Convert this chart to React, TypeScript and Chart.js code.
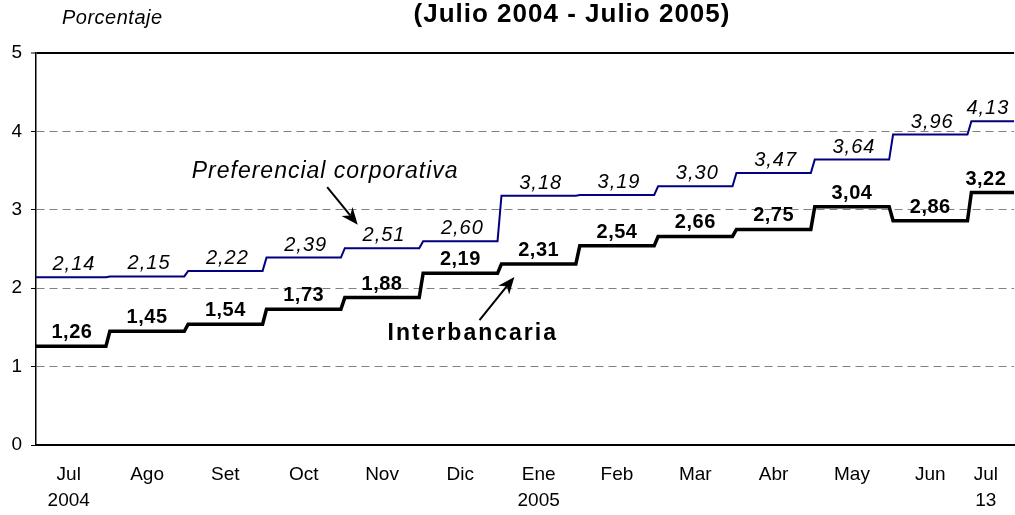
import React, { useEffect, useRef } from "react";
import { Chart, registerables } from "chart.js";

Chart.register(...registerables);

// ---- data ----
const months = ["Jul", "Ago", "Set", "Oct", "Nov", "Dic", "Ene", "Feb", "Mar", "Abr", "May", "Jun", "Jul"];
const subLabels = ["2004", "", "", "", "", "", "2005", "", "", "", "", "", "13"];
const preferencial = [2.14, 2.15, 2.22, 2.39, 2.51, 2.6, 3.18, 3.19, 3.3, 3.47, 3.64, 3.96, 4.13];
const interbancaria = [1.26, 1.45, 1.54, 1.73, 1.88, 2.19, 2.31, 2.54, 2.66, 2.75, 3.04, 2.86, 3.22];
const yTickValues = [0, 1, 2, 3, 4, 5];
const lastMonthDays = 13;
const lastMonthLength = 31;
const titleText = "(Julio 2004 - Julio 2005)";
const unitText = "Porcentaje";
const prefName = "Preferencial corporativa";
const interName = "Interbancaria";

// ---- layout / style ----
const FONT = '"Liberation Sans", Arial, Helvetica, sans-serif';
const X_MIN = -0.418;
const X_MAX = 12.07;
const SLANT = 0.05;
const n = months.length;

const fmt = (v: number) => v.toFixed(2).replace(".", ",");

function monthCenter(i: number) {
  if (i === 0) return (X_MIN + 0.5) / 2;
  if (i === n - 1) return n - 1.5 + lastMonthDays / lastMonthLength / 2;
  return i;
}
function axisLabelPos(i: number) {
  if (i === n - 1) return n - 1.5 + lastMonthDays / lastMonthLength / 2;
  return i;
}

function stepPoints(vals: number[]) {
  const pts: { x: number; y: number }[] = [];
  vals.forEach((v, i) => {
    const start = i === 0 ? X_MIN : i - 0.5 + SLANT / 2;
    const end = i === vals.length - 1 ? X_MAX : i + 0.5 - SLANT / 2;
    pts.push({ x: start, y: v }, { x: end, y: v });
  });
  return pts;
}

// annotation anchors in data units (month index, percent)
const prefNamePos = { x: 1.57, y: 3.405 };
const interNamePos = { x: 4.07, y: 1.34 };
const prefArrow = { from: { x: 3.3, y: 3.29 }, to: { x: 3.69, y: 2.81 } };
const interArrow = { from: { x: 5.245, y: 1.594 }, to: { x: 5.69, y: 2.143 } };

function drawArrow(ctx: CanvasRenderingContext2D, x1: number, y1: number, x2: number, y2: number) {
  const head = 17;
  const w = 7;
  const a = Math.atan2(y2 - y1, x2 - x1);
  ctx.beginPath();
  ctx.moveTo(x1, y1);
  ctx.lineTo(x2 - Math.cos(a) * head * 0.7, y2 - Math.sin(a) * head * 0.7);
  ctx.stroke();
  ctx.beginPath();
  ctx.moveTo(x2, y2);
  ctx.lineTo(x2 - head * Math.cos(a) + w * Math.sin(a), y2 - head * Math.sin(a) - w * Math.cos(a));
  ctx.lineTo(x2 - head * 0.7 * Math.cos(a), y2 - head * 0.7 * Math.sin(a));
  ctx.lineTo(x2 - head * Math.cos(a) - w * Math.sin(a), y2 - head * Math.sin(a) + w * Math.cos(a));
  ctx.closePath();
  ctx.fill();
}

const annotPlugin = {
  id: "annotPlugin",
  afterDatasetsDraw(chart: any) {
    const { ctx } = chart;
    const xs = chart.scales.x;
    const ys = chart.scales.y;
    const c = ctx as any;
    ctx.save();
    ctx.fillStyle = "#000";
    ctx.strokeStyle = "#000";
    ctx.textAlign = "center";
    ctx.textBaseline = "alphabetic";

    c.letterSpacing = "1px";
    ctx.font = `italic 20px ${FONT}`;
    preferencial.forEach((v, i) => {
      ctx.fillText(fmt(v), xs.getPixelForValue(monthCenter(i)) + 2, ys.getPixelForValue(v) - 7);
    });
    c.letterSpacing = "0.5px";
    ctx.font = `bold 20px ${FONT}`;
    interbancaria.forEach((v, i) => {
      ctx.fillText(fmt(v), xs.getPixelForValue(monthCenter(i)), ys.getPixelForValue(v) - 8);
    });

    ctx.textAlign = "left";
    ctx.font = `italic 23px ${FONT}`;
    c.letterSpacing = "1px";
    ctx.fillText(prefName, xs.getPixelForValue(prefNamePos.x), ys.getPixelForValue(prefNamePos.y));
    ctx.font = `bold 23px ${FONT}`;
    c.letterSpacing = "2px";
    ctx.fillText(interName, xs.getPixelForValue(interNamePos.x), ys.getPixelForValue(interNamePos.y));
    c.letterSpacing = "0px";

    ctx.lineWidth = 2;
    for (const ar of [prefArrow, interArrow]) {
      drawArrow(
        ctx,
        xs.getPixelForValue(ar.from.x),
        ys.getPixelForValue(ar.from.y),
        xs.getPixelForValue(ar.to.x),
        ys.getPixelForValue(ar.to.y)
      );
    }
    ctx.restore();
  },
  afterDraw(chart: any) {
    const { ctx } = chart;
    const c = ctx as any;
    ctx.save();
    ctx.fillStyle = "#000";
    ctx.textBaseline = "alphabetic";
    ctx.textAlign = "center";
    c.letterSpacing = "1px";
    ctx.font = `bold 26px ${FONT}`;
    ctx.fillText(titleText, 572, 22);
    ctx.textAlign = "left";
    ctx.font = `italic 20px ${FONT}`;
    c.letterSpacing = "0.5px";
    ctx.fillText(unitText, 62, 24);
    c.letterSpacing = "0px";
    ctx.restore();
  },
};

export default function App() {
  const ref = useRef<HTMLCanvasElement>(null);
  useEffect(() => {
    if (!ref.current) return;
    const chart = new Chart(ref.current, {
      type: "line",
      data: {
        datasets: [
          {
            label: prefName,
            data: stepPoints(preferencial),
            borderColor: "#000080",
            borderWidth: 2,
            pointRadius: 0,
            tension: 0,
            fill: false,
          },
          {
            label: interName,
            data: stepPoints(interbancaria),
            borderColor: "#000000",
            borderWidth: 3.5,
            pointRadius: 0,
            tension: 0,
            fill: false,
          },
        ],
      },
      options: {
        animation: false,
        responsive: false,
        devicePixelRatio: 1,
        layout: { padding: { top: 53, left: 0, right: 0, bottom: 0 } },
        plugins: {
          legend: { display: false },
          title: { display: false },
          tooltip: { enabled: false },
        },
        scales: {
          x: {
            type: "linear",
            min: X_MIN,
            max: X_MAX,
            afterBuildTicks: (s: any) => {
              s.ticks = months.map((_, i) => ({ value: axisLabelPos(i) }));
            },
            afterFit: (s: any) => {
              s.height = 70;
            },
            grid: { display: false, drawTicks: false },
            border: { display: true, color: "#000", width: 2 },
            ticks: {
              autoSkip: false,
              maxRotation: 0,
              minRotation: 0,
              color: "#000",
              padding: 17,
              font: { size: 19, family: FONT, lineHeight: 1.35 },
              callback: (_v: any, idx: number) => [months[idx], subLabels[idx]],
            },
          },
          y: {
            min: 0,
            max: 5,
            afterBuildTicks: (s: any) => {
              s.ticks = yTickValues.map((v) => ({ value: v }));
            },
            afterFit: (s: any) => {
              s.width = 36;
            },
            ticks: {
              color: "#000",
              padding: 9,
              font: { size: 19, family: FONT },
              callback: (v: any) => String(v),
            },
            grid: {
              color: (c: any) =>
                c.tick && c.tick.value === 5 ? "#000" : c.tick && c.tick.value === 0 ? "rgba(0,0,0,0)" : "#808080",
              lineWidth: (c: any) => (c.tick && c.tick.value === 5 ? 2 : 1),
              tickColor: "#000",
              tickLength: 5,
              tickWidth: 1,
              drawTicks: true,
            },
            border: {
              display: true,
              color: "#000",
              width: 1.5,
              dash: (c: any) => (c.tick && c.tick.value > 0 && c.tick.value < 5 ? [8, 5] : []),
            },
          },
        },
      },
      plugins: [annotPlugin],
    } as any);
    return () => chart.destroy();
  }, []);
  return (
    <div style={{ position: "fixed", left: 0, top: 0, width: 1015, height: 515, background: "#fff" }}>
      <canvas ref={ref} width={1015} height={515} style={{ display: "block" }} />
    </div>
  );
}
